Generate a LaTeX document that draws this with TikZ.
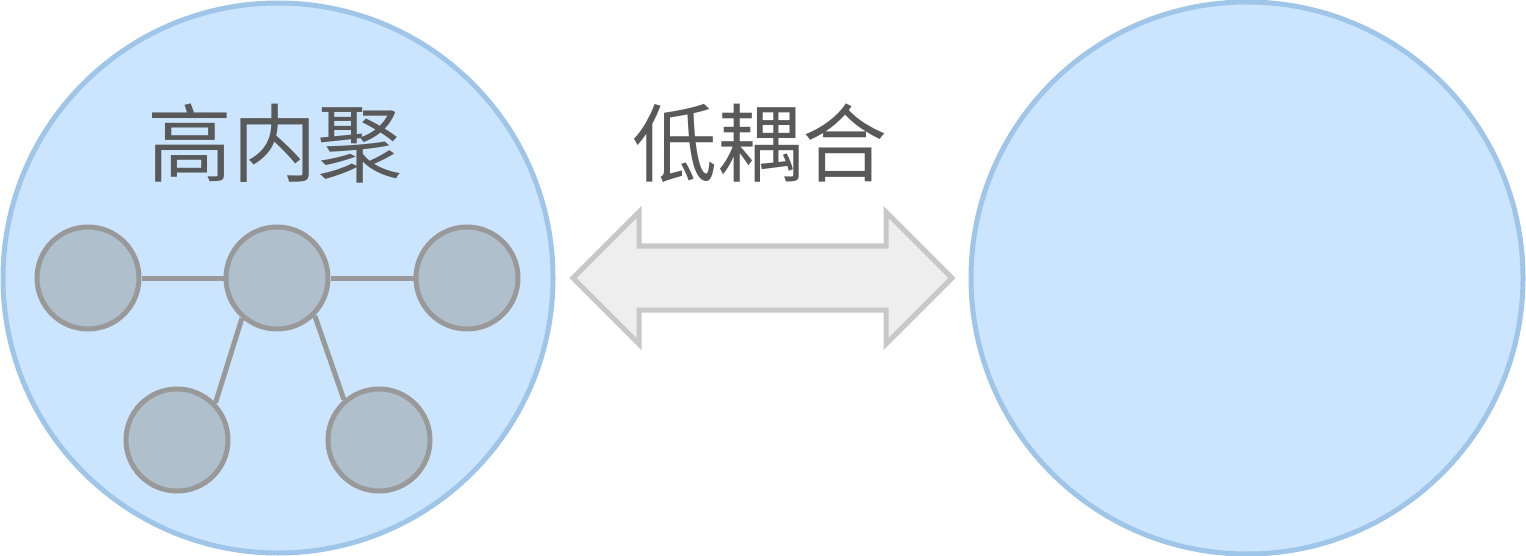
\documentclass[tikz,border=0pt]{standalone}
\usepackage{fontspec}
\newfontfamily\cjk[Script=CJK,Language=Chinese Simplified]{Noto Sans CJK SC}
\definecolor{bigfill}{HTML}{CCE5FF}
\definecolor{bigline}{HTML}{9FC5E8}
\definecolor{smallfill}{HTML}{B0BFCC}
\definecolor{smallline}{HTML}{999999}
\definecolor{arrfill}{HTML}{EEEEEE}
\definecolor{arrline}{HTML}{C8C8C8}
\definecolor{txt}{HTML}{595959}
\begin{document}
\begin{tikzpicture}[x=1pt,y=-1pt,
  bigcircle/.style={circle,draw=bigline,fill=bigfill,line width=5pt,minimum size=550pt,inner sep=0pt},
  smallcircle/.style={circle,draw=smallline,fill=smallfill,line width=5pt,minimum size=102pt,inner sep=0pt},
  link/.style={draw=smallline,line width=5pt},
  label/.style={text=txt,font=\cjk\fontsize{85}{100}\selectfont,inner sep=0pt,anchor=base}]
\useasboundingbox (0,0) rectangle (1526,556);
\node[bigcircle] (L) at (278,278) {};
\node[bigcircle,minimum size=552pt] (R) at (1247,278) {};
\node[label] (t1) at (275,176) {高内聚};
\node[label] (t2) at (760,176) {低耦合};
\draw[draw=arrline,fill=arrfill,line width=5pt,line join=miter]
  (573,278) -- (639,212) -- (639,246) -- (886,246) -- (886,212) -- (952,278)
  -- (886,344) -- (886,310) -- (639,310) -- (639,344) -- cycle;
\node[smallcircle] (a) at (88,278) {};
\node[smallcircle] (c) at (277,278) {};
\node[smallcircle] (b) at (467,278) {};
\node[smallcircle] (d) at (177,440) {};
\node[smallcircle] (e) at (379,440) {};
\path[link] (a.east) -- (c.west);
\path[link] (c.east) -- (b.west);
\path[link] (c.229) -- (d.44);
\path[link] (c.315) -- (e.131);
\end{tikzpicture}
\end{document}
